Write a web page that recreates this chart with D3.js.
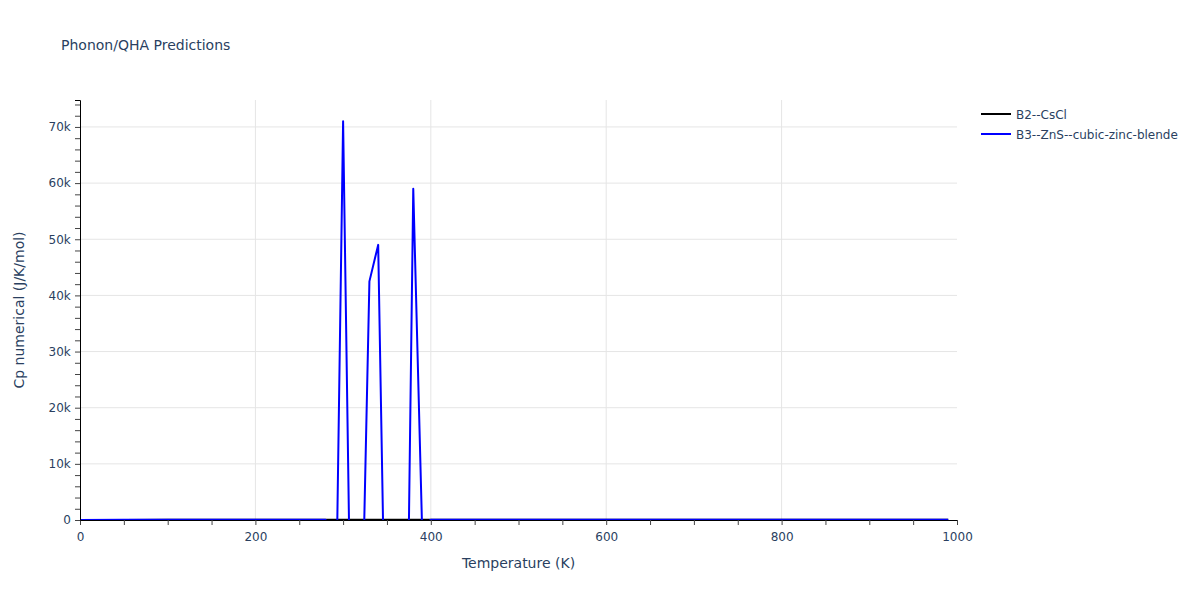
<!DOCTYPE html>
<html>
<head>
<meta charset="utf-8">
<script src="https://cdn.jsdelivr.net/npm/d3@7"></script>
<style>
  body { margin: 0; background: #fff; }
  text { font-family: "DejaVu Sans", verdana, arial, sans-serif; fill: #2a3f5f; }
</style>
</head>
<body>
<svg id="chart" width="1200" height="600"></svg>
<script>
// Series (Temperature in K, Cp in J/K/mol)
var tempB2 = [0, 50, 100, 150, 200, 300, 400, 500, 600, 700, 800, 900, 990];
var cpB2   = [0, 20, 38, 44, 46, 48, 49, 49, 49, 50, 50, 50, 50];

var tempB3 = [0, 50, 100, 150, 200, 250, 280, 290, 300, 310, 320, 330, 340, 350, 360, 370, 380, 390, 400, 500, 600, 700, 800, 900, 990];
var cpB3   = [0, 25, 41, 46, 48, 49, 49, -36600, 71000, -35000, -30000, 42500, 49000, -40000, -30000, -61000, 59000, -1000, 50, 50, 51, 51, 51, 51, 51];

var seriesNames = ["B2--CsCl", "B3--ZnS--cubic-zinc-blende"];
var seriesColors = ["#000000", "#0000ff"];

var xTickLabels = [0, 200, 400, 600, 800, 1000];
var yTickLabels = [0, 10000, 20000, 30000, 40000, 50000, 60000, 70000];

// plot box
var plotLeft = 80, plotRight = 957, plotTop = 100, plotBottom = 520;

var svg = d3.select("#chart");

var x = d3.scaleLinear().domain([0, 1000]).range([plotLeft, plotRight]);
var y = d3.scaleLinear().domain([0, 74800]).range([plotBottom, plotTop]);

// title
svg.append("text")
    .attr("x", 61).attr("y", 50)
    .style("font-size", "14px")
    .text("Phonon/QHA Predictions");

// grid lines
var grid = svg.append("g");
grid.selectAll(".gy").data(yTickLabels.filter(function(d) { return d > 0; }))
    .enter().append("line")
    .attr("x1", plotLeft).attr("x2", plotRight)
    .attr("y1", function(d) { return y(d); }).attr("y2", function(d) { return y(d); })
    .attr("stroke", "#e5e5e5").attr("stroke-width", 1);
grid.selectAll(".gx").data(xTickLabels.filter(function(d) { return d > 0 && d < 1000; }))
    .enter().append("line")
    .attr("y1", plotTop).attr("y2", plotBottom)
    .attr("x1", function(d) { return x(d); }).attr("x2", function(d) { return x(d); })
    .attr("stroke", "#e5e5e5").attr("stroke-width", 1);

// clip to the plot area, negative spikes drop out of view
svg.append("clipPath").attr("id", "clip")
    .append("rect")
    .attr("x", plotLeft).attr("y", plotTop)
    .attr("width", plotRight - plotLeft).attr("height", plotBottom - plotTop + 1);

var line = d3.line()
    .x(function(d) { return x(d[0]); })
    .y(function(d) { return y(d[1]); });

var traces = [d3.zip(tempB2, cpB2), d3.zip(tempB3, cpB3)];

svg.append("g").attr("clip-path", "url(#clip)")
    .selectAll("path").data(traces)
    .enter().append("path")
    .attr("d", line)
    .attr("fill", "none")
    .attr("stroke", function(d, i) { return seriesColors[i]; })
    .attr("stroke-width", 2)
    .attr("stroke-linejoin", "round");

// x axis
var xAxis = d3.axisBottom(x)
    .tickValues(d3.range(0, 1001, 50))
    .tickSize(5)
    .tickFormat(function(d) { return xTickLabels.indexOf(d) >= 0 ? d : ""; });
var gx = svg.append("g").attr("transform", "translate(0," + plotBottom + ")").call(xAxis);
gx.select(".domain").attr("stroke", "#000").attr("stroke-width", 1);
gx.selectAll(".tick line").attr("stroke", "#444");
gx.selectAll(".tick text").attr("dy", "1.1em").style("font-size", "12px")
    .style("font-family", "'DejaVu Sans', sans-serif").style("fill", "#2a3f5f");

// y axis
var yAxis = d3.axisLeft(y)
    .tickValues(d3.range(0, 74001, 2000))
    .tickSize(5)
    .tickFormat(function(d) { return yTickLabels.indexOf(d) >= 0 ? (d === 0 ? "0" : d / 1000 + "k") : ""; });
var gy = svg.append("g").attr("transform", "translate(" + plotLeft + ",0)").call(yAxis);
gy.select(".domain").attr("stroke", "#000").attr("stroke-width", 1);
gy.selectAll(".tick line").attr("stroke", "#444");
gy.selectAll(".tick text").attr("dx", "-0.1em").style("font-size", "12px")
    .style("font-family", "'DejaVu Sans', sans-serif").style("fill", "#2a3f5f");

// axis titles
svg.append("text")
    .attr("x", (plotLeft + plotRight) / 2).attr("y", 568)
    .attr("text-anchor", "middle")
    .style("font-size", "14px")
    .text("Temperature (K)");

svg.append("text")
    .attr("transform", "translate(24," + (plotTop + plotBottom) / 2 + ") rotate(-90)")
    .attr("text-anchor", "middle")
    .style("font-size", "14px")
    .text("Cp numerical (J/K/mol)");

// legend
var legend = svg.append("g").attr("transform", "translate(981,114)");
var items = legend.selectAll("g").data(seriesNames).enter().append("g")
    .attr("transform", function(d, i) { return "translate(0," + i * 20 + ")"; });
items.append("line")
    .attr("x1", 0).attr("x2", 30)
    .attr("stroke", function(d, i) { return seriesColors[i]; })
    .attr("stroke-width", 2);
items.append("text")
    .attr("x", 35).attr("y", 4.5)
    .style("font-size", "12px")
    .text(function(d) { return d; });
</script>
</body>
</html>
